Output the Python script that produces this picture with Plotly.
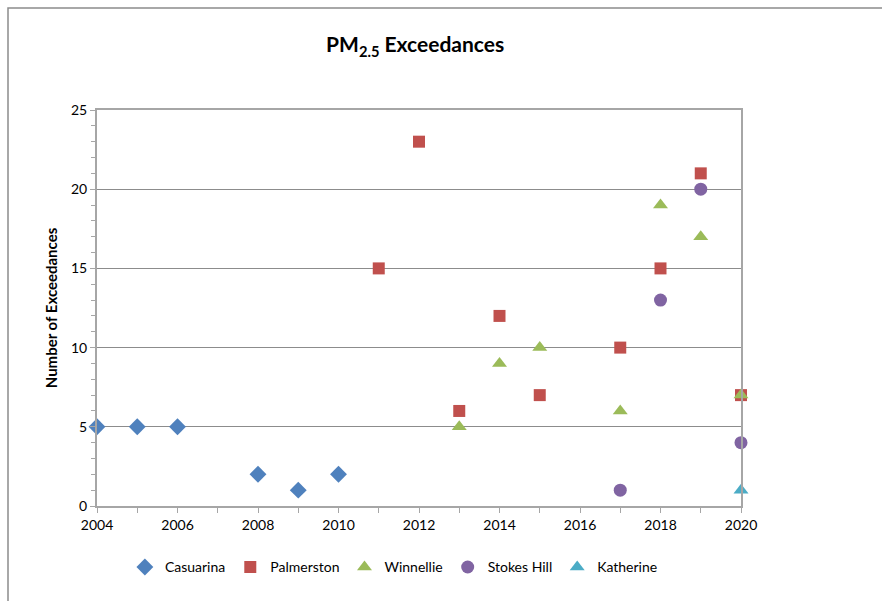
import plotly.graph_objects as go

# Annual PM2.5 exceedance counts by monitoring station
casuarina_years = [2004, 2005, 2006, 2008, 2009, 2010]
casuarina_counts = [5, 5, 5, 2, 1, 2]

palmerston_years = [2011, 2012, 2013, 2014, 2015, 2017, 2018, 2019, 2020]
palmerston_counts = [15, 23, 6, 12, 7, 10, 15, 21, 7]

winnellie_years = [2013, 2014, 2015, 2017, 2018, 2019, 2020]
winnellie_counts = [5, 9, 10, 6, 19, 17, 7]

stokes_hill_years = [2017, 2018, 2019, 2020]
stokes_hill_counts = [1, 13, 20, 4]

katherine_years = [2020]
katherine_counts = [1]

x_tick_values = [2004, 2006, 2008, 2010, 2012, 2014, 2016, 2018, 2020]
y_tick_values = [0, 5, 10, 15, 20, 25]

FONT = "Lato, Calibri, 'Liberation Sans', sans-serif"
AXIS_GREY = "#A6A6A6"
GRID_GREY = "#8C8C8C"

series = [
    ("Casuarina", casuarina_years, casuarina_counts, "diamond", "#4F81BD", 13),
    ("Palmerston", palmerston_years, palmerston_counts, "square", "#C0504D", 12),
    ("Winnellie", winnellie_years, winnellie_counts, "triangle-up", "#9BBB59", 13),
    ("Stokes Hill", stokes_hill_years, stokes_hill_counts, "circle", "#8064A2", 13),
    ("Katherine", katherine_years, katherine_counts, "triangle-up", "#4BACC6", 13),
]

fig = go.Figure()
for name, xs, ys, symbol, color, size in series:
    fig.add_trace(go.Scatter(
        x=xs, y=ys, name=name, mode="markers",
        marker=dict(symbol=symbol, color=color, size=size, line=dict(width=0)),
        cliponaxis=False,
    ))

fig.update_layout(
    width=882, height=601,
    margin=dict(l=97, r=141, t=110, b=95),
    paper_bgcolor="white", plot_bgcolor="white",
    font=dict(family=FONT, size=14, color="#000000"),
    title=dict(
        text="<b>PM<sub>2.5</sub> Exceedances</b>",
        x=0.494, xref="paper", xanchor="center",
        y=0.925, yref="container", yanchor="middle",
        font=dict(family=FONT, size=21, color="#000000"),
    ),
    showlegend=True,
    legend=dict(
        orientation="h", x=0.461, xanchor="center", y=-0.155, yanchor="middle",
        font=dict(family=FONT, size=14), itemwidth=30, tracegroupgap=0,
        traceorder="normal",
    ),
    xaxis=dict(
        range=[2004, 2020], tickvals=x_tick_values, ticktext=[str(v) for v in x_tick_values],
        showgrid=False, zeroline=False,
        showline=True, linecolor=AXIS_GREY, linewidth=2, mirror=True,
        ticks="outside", ticklen=5, tickcolor=AXIS_GREY, tickwidth=1,
        minor=dict(dtick=1, tick0=2004, ticks="outside", ticklen=5, tickcolor=AXIS_GREY, showgrid=False),
        tickfont=dict(family=FONT, size=14), fixedrange=True,
    ),
    yaxis=dict(
        range=[0, 25], tickvals=y_tick_values,
        showgrid=True, gridcolor=GRID_GREY, gridwidth=1, zeroline=False,
        showline=True, linecolor=AXIS_GREY, linewidth=2, mirror=True,
        ticks="outside", ticklen=5, tickcolor=AXIS_GREY, tickwidth=1,
        minor=dict(dtick=1, tick0=0, ticks="outside", ticklen=4, tickcolor=AXIS_GREY, showgrid=False),
        tickfont=dict(family=FONT, size=14),
        title=dict(text="<b>Number of Exceedances</b>", font=dict(family=FONT, size=15), standoff=10),
        fixedrange=True,
    ),
)

# Outer chart frame (left and top edges visible)
fig.add_shape(
    type="rect", xref="paper", yref="paper",
    x0=-89 / 644, x1=1 + 160 / 644, y0=-120 / 396, y1=1 + 102 / 396,
    line=dict(color="#8C8C8C", width=1.5), layer="below",
)

fig.write_html("out.html")
